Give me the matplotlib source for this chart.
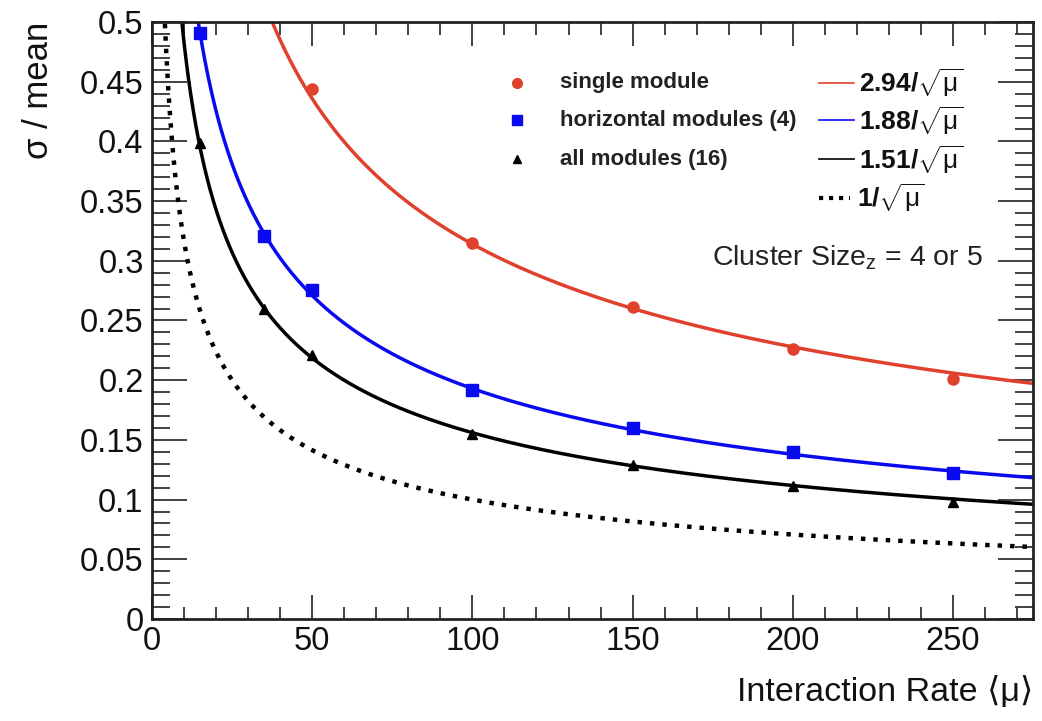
import numpy as np
import matplotlib
matplotlib.use('Agg')
import matplotlib.pyplot as plt

plt.rcParams['font.family'] = ['Liberation Sans', 'DejaVu Sans']
plt.rcParams['mathtext.fontset'] = 'custom'
plt.rcParams['mathtext.rm'] = 'Liberation Sans'
plt.rcParams['mathtext.it'] = 'Liberation Sans'
plt.rcParams['mathtext.bf'] = 'Liberation Sans:bold'

# measured resolution vs pile-up
mu = [15, 35, 50, 100, 150, 200, 250]
single = [None, None, 0.444, 0.315, 0.261, 0.226, 0.201]
horizontal = [0.491, 0.321, 0.2755, 0.192, 0.160, 0.140, 0.122]
all_mod = [0.399, 0.2596, 0.221, 0.155, 0.129, 0.111, 0.098]

# fit p0/sqrt(mu) + p1
fit_p0 = [2.94, 1.88, 1.51]
fit_p1 = [0.02, 0.005, 0.005]
fit_labels = ['2.94', '1.88', '1.51']
labels = ['single module', 'horizontal modules (4)', 'all modules (16)']
colors = ['#e0402c', '#0a0af0', 'black']
markers = ['o', 's', '^']
msizes = [8, 8.5, 7]

fig = plt.figure(figsize=(10.42, 7.21), dpi=100)
ax = fig.add_axes([0.1459, 0.1415, 0.8455, 0.828])

x = np.linspace(0.5, 275, 2000)
data = [single, horizontal, all_mod]
for i in range(3):
    ax.plot(x, fit_p0[i] / np.sqrt(x) + fit_p1[i], color=colors[i], lw=2.5, zorder=2)
    xs = [m for m, v in zip(mu, data[i]) if v is not None]
    ys = [v for v in data[i] if v is not None]
    ax.plot(xs, ys, markers[i], color=colors[i], ms=msizes[i], mec=colors[i], zorder=3)

# statistical limit
ax.plot(x, 1 / np.sqrt(x), color='black', lw=3.2, ls=(0, (1, 1.8)), zorder=2)

ax.set_xlim(0, 275)
ax.set_ylim(0, 0.5)
ax.set_xticks(np.arange(0, 251, 50))
ax.set_xticks(np.arange(0, 276, 10), minor=True)
ax.set_yticks(np.arange(0, 0.501, 0.05))
ax.set_yticks(np.arange(0, 0.501, 0.01), minor=True)
ax.set_yticklabels(['0', '0.05', '0.1', '0.15', '0.2', '0.25', '0.3', '0.35', '0.4', '0.45', '0.5'])
ax.tick_params(axis='both', which='both', direction='in', top=True, right=True,
               labelsize=23.5, width=1.3, colors='#333333', labelcolor='#111111')
ax.tick_params(axis='x', which='major', length=17, pad=5)
ax.tick_params(axis='x', which='minor', length=9)
ax.tick_params(axis='y', which='major', length=25, pad=6)
ax.tick_params(axis='y', which='minor', length=13)
for s in ax.spines.values():
    s.set_linewidth(2)
    s.set_color('#222222')

ax.set_ylabel('σ / mean', fontsize=25, loc='top', labelpad=18, color='#111111')
ax.set_xlabel('Interaction Rate ⟨μ⟩', fontsize=24.5, loc='right',
              labelpad=14, color='#111111')

# legend: markers
ly = [0.898, 0.835, 0.770]
for i in range(3):
    ax.plot(0.414, ly[i], markers[i], color=colors[i], ms=msizes[i] - 1, transform=ax.transAxes,
            clip_on=False)
    ax.text(0.463, ly[i], labels[i], transform=ax.transAxes, fontsize=16, fontweight='bold',
            va='center', ha='left', color='#222222')

# legend: fit curves
ly2 = [0.898, 0.835, 0.770, 0.706]
for i in range(3):
    ax.plot([0.757, 0.797], [ly2[i], ly2[i]], color=colors[i], lw=1.2, transform=ax.transAxes)
    ax.text(0.802, ly2[i], fit_labels[i] + r'/$\sqrt{\mathrm{\mu}}$', transform=ax.transAxes,
            fontsize=19, fontweight='bold', va='center', ha='left', color='#111111')
ax.plot([0.757, 0.792], [ly2[3], ly2[3]], color='black', lw=3, ls=(0, (1, 1.4)),
        transform=ax.transAxes)
ax.text(0.800, ly2[3], r'1/$\sqrt{\mathrm{\mu}}$', transform=ax.transAxes,
        fontsize=19, fontweight='bold', va='center', ha='left', color='#111111')

ax.text(0.636, 0.605, r'Cluster Size$_{z}$ = 4 or 5', transform=ax.transAxes, fontsize=20.5,
        va='center', ha='left', color='#222222')

fig.savefig('out.png', dpi=100)
